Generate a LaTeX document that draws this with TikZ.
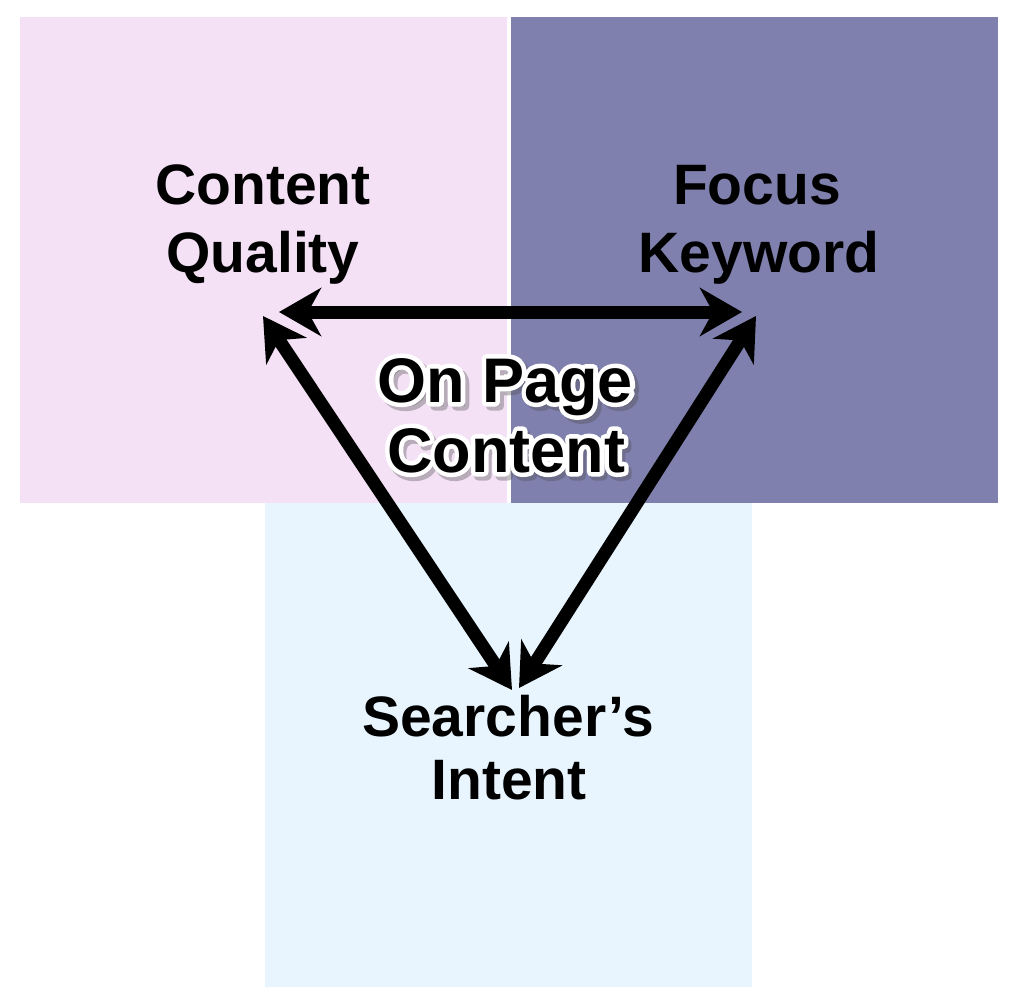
\documentclass[tikz,border=0pt]{standalone}
\usepackage{fontspec}
\setmainfont{Liberation Sans}
\usetikzlibrary{arrows.meta}
\definecolor{pinkbg}{HTML}{F4E1F5}
\definecolor{purplebg}{HTML}{7F80AD}
\definecolor{bluebg}{HTML}{E8F5FE}
\newcommand\strokedtext[3]{\special{pdf:literal direct q 2 Tr #1 w 1 j #2 RG #2 rg}#3\special{pdf:literal direct Q}}
\tikzset{
  lbl/.style={inner sep=0pt, anchor=base, font=\fontsize{57}{67}\selectfont\bfseries},
  mid/.style={inner sep=0pt, anchor=base, font=\fontsize{63}{72}\selectfont\bfseries},
  big/.style={line width=13pt, {Stealth[length=42pt,width=48pt,inset=13pt]}-{Stealth[length=42pt,width=48pt,inset=13pt]}},
}
\begin{document}
\begin{tikzpicture}[x=1pt,y=-1pt]
\useasboundingbox (0,0) rectangle (1024,1000);
\fill[white] (0,0) rectangle (1024,1000);
\fill[pinkbg] (20,17) rectangle (507,503);
\fill[purplebg] (511,17) rectangle (998,503);
\fill[bluebg] (265,503) rectangle (752,987);

\node[lbl] (cq1) at (263,205) {Content};
\node[lbl] (cq2) at (263,272) {Quality};
\node[lbl] (fk1) at (757,205) {Focus};
\node[lbl] (fk2) at (759,272) {Keyword};
\node[lbl] (si1) at (508,736) {Searcher’s};
\node[lbl] (si2) at (509,799) {Intent};

\coordinate (cqL) at (279,312);
\coordinate (fkR) at (742,312);
\coordinate (cqD) at (263,316);
\coordinate (fkD) at (756,316);
\coordinate (siL) at (512,690);
\coordinate (siR) at (519,688);

\draw[big] (cqL) -- (fkR);
\draw[big] (cqD) -- (siL);
\draw[big] (fkD) -- (siR);

\node[mid, opacity=0.35] (sh1) at (509,406) {\strokedtext{9}{0.3 0.3 0.3}{On Page}};
\node[mid, opacity=0.35] (sh2) at (509,476) {\strokedtext{9}{0.3 0.3 0.3}{Content}};
\node[mid] (op1) at (505,402) {\strokedtext{9}{1 1 1}{On Page}};
\node[mid] (op2) at (506,472) {\strokedtext{9}{1 1 1}{Content}};
\node[mid] (ot1) at (505,402) {On Page};
\node[mid] (ot2) at (506,472) {Content};
\end{tikzpicture}
\end{document}
